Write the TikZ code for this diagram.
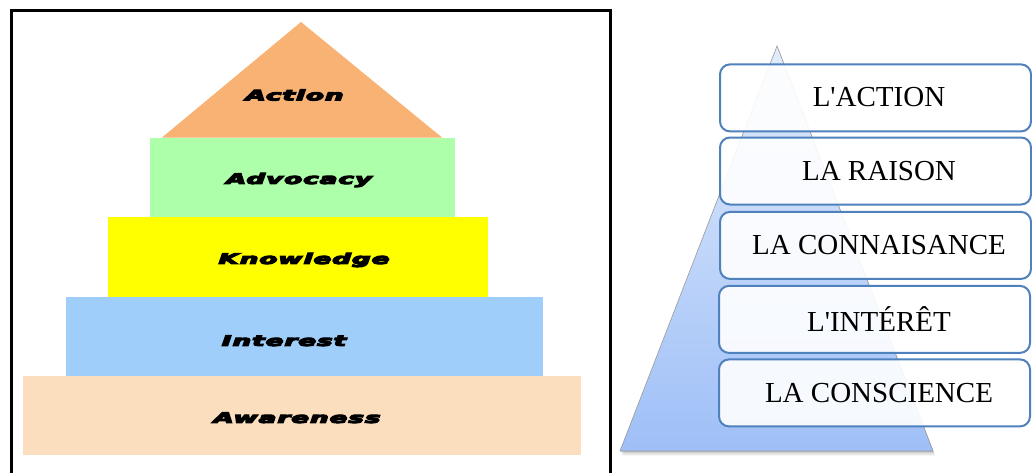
\documentclass[tikz,border=0pt]{standalone}
\usepackage{fontspec}
\setmainfont{Liberation Serif}[Ligatures=TeXOff]
\newfontfamily\heavyfont{DejaVu Sans}[LetterSpace=4]
\usetikzlibrary{calc}
\definecolor{actc}{HTML}{F8B274}
\definecolor{advc}{HTML}{AEFFAA}
\definecolor{knoc}{HTML}{FFFF00}
\definecolor{intc}{HTML}{9ECEF9}
\definecolor{awac}{HTML}{FADEBE}
\definecolor{boxline}{HTML}{4F81BD}
\definecolor{pyrtop}{HTML}{E2ECFC}
\definecolor{pyrbot}{HTML}{9EBFF7}
\tikzset{
  layer/.style={draw=none, inner sep=0pt, rectangle},
  heavy/.style={font=\heavyfont\bfseries\itshape\fontsize{14.5}{15}\selectfont, inner sep=0pt},
  stage/.style={draw=boxline, line width=2pt, rounded corners=10pt, fill=white, fill opacity=0.9, text opacity=1,
    minimum width=311pt, minimum height=67pt, inner sep=0pt},
  stagetext/.style={font=\fontsize{29}{30}\selectfont, inner sep=0pt}
}
\newcommand{\wide}[1]{\scalebox{1.8}[1]{\special{pdf:literal direct q 2 Tr 1.0 w}#1\special{pdf:literal direct Q}}}
\begin{document}
\begin{tikzpicture}[x=1pt,y=-1pt]
\useasboundingbox (0,0) rectangle (1032,472);
\fill[white] (0,0) rectangle (1032,472);
\begin{scope}
\clip (0,0) rectangle (1032,472);
% left frame
\draw[line width=3pt] (11.5,490) -- (11.5,10.5) -- (610.5,10.5) -- (610.5,490);
% layers
\node[layer, fill=awac, minimum width=558pt, minimum height=79pt] (aw) at (302,415.5) {};
\node[layer, fill=intc, minimum width=477pt, minimum height=79pt] (in) at (304.5,336.5) {};
\node[layer, fill=knoc, minimum width=380.5pt, minimum height=80pt] (kn) at (297.75,257) {};
\node[layer, fill=advc, minimum width=305pt, minimum height=79pt] (ad) at (302.5,177.5) {};
\coordinate (acl) at (162,137.5);
\coordinate (acr) at (442,137.5);
\coordinate (act) at (301,22);
\fill[actc] (acl) -- (acr) -- (act) -- cycle;
\node[heavy] (tac) at (294.5,95) {\wide{Action}};
\node[heavy] (tad) at (299,180) {\wide{Advocacy}};
\node[heavy] (tkn) at (304,260) {\wide{Knowledge}};
\node[heavy] (tin) at (284,340.7) {\wide{Interest}};
\node[heavy] (taw) at (297,417.7) {\wide{Awareness}};
% right pyramid
\coordinate (pa) at (777,46);
\coordinate (pl) at (620,451);
\coordinate (pr) at (933,451);
\foreach \i/\o in {1/0.10,2/0.08,3/0.06,4/0.04} {
  \fill[black, opacity=\o] ($(pl)+(\i*0.6,\i*1.2)$) -- ($(pr)+(\i*0.6,\i*1.2)$) -- ($(pa)+(\i*0.6,\i*1.2)$) -- cycle;
}
\shade[top color=pyrtop, bottom color=pyrbot] (pl) -- (pr) -- (pa) -- cycle;
\draw[gray!80, line width=0.6pt] (pl) -- (pr) -- (pa) -- cycle;
% stages
\node[stage] (s1) at (875.5,97.9) {};
\node[stage] (s2) at (875.5,171) {};
\node[stage] (s3) at (875.5,245.4) {};
\node[stage] (s4) at (874.5,319.4) {};
\node[stage] (s5) at (874.5,392.9) {};
\node[stagetext] (t1) at (879,97.5) {L'ACTION};
\node[stagetext] (t2) at (879,171) {LA RAISON};
\node[stagetext] (t3) at (879,245.4) {LA CONNAISANCE};
\node[stagetext] (t4) at (879,319.4) {L'INTÉRÊT};
\node[stagetext] (t5) at (879,392.9) {LA CONSCIENCE};
\end{scope}
\end{tikzpicture}
\end{document}
